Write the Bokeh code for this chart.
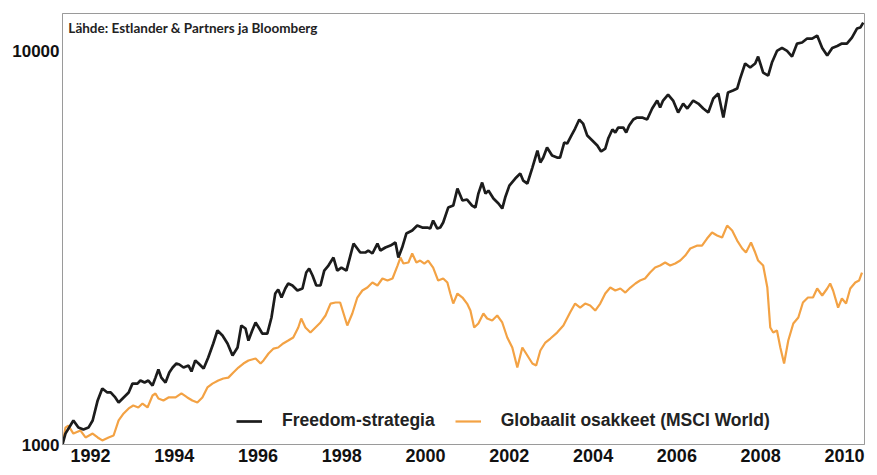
from bokeh.plotting import figure
from bokeh.models import Range1d, FixedTicker, NumeralTickFormatter, Legend, LegendItem, Label
from bokeh.embed import file_html
from bokeh.resources import INLINE

# ---------------- data ----------------
freedom_year = [1991.33, 1991.40, 1991.59, 1991.71, 1991.83, 1991.95, 1992.05, 1992.17, 1992.28, 1992.40,
                1992.48, 1992.59, 1992.67, 1992.79, 1992.91, 1993.00, 1993.12, 1993.19, 1993.29, 1993.38,
                1993.48, 1993.55, 1993.62, 1993.69, 1993.79, 1993.88, 1993.96, 1994.05, 1994.12, 1994.22,
                1994.34, 1994.41, 1994.50, 1994.58, 1994.70, 1994.81, 1994.93, 1995.03, 1995.15, 1995.27,
                1995.39, 1995.51, 1995.60, 1995.70, 1995.77, 1995.86, 1995.94, 1996.03, 1996.10, 1996.22,
                1996.32, 1996.41, 1996.48, 1996.56, 1996.65, 1996.72, 1996.82, 1996.94, 1997.06, 1997.15,
                1997.22, 1997.30, 1997.39, 1997.49, 1997.58, 1997.68, 1997.80, 1997.89, 1997.99, 1998.11,
                1998.28, 1998.44, 1998.56, 1998.63, 1998.73, 1998.85, 1998.92, 1999.04, 1999.16, 1999.28,
                1999.35, 1999.44, 1999.54, 1999.68, 1999.80, 1999.92, 2000.04, 2000.11, 2000.18, 2000.28,
                2000.35, 2000.42, 2000.54, 2000.66, 2000.76, 2000.88, 2000.99, 2001.11, 2001.19, 2001.26,
                2001.35, 2001.43, 2001.50, 2001.62, 2001.74, 2001.83, 2001.90, 2002.00, 2002.14, 2002.26,
                2002.33, 2002.43, 2002.55, 2002.67, 2002.74, 2002.81, 2002.90, 2003.02, 2003.14, 2003.21,
                2003.31, 2003.38, 2003.48, 2003.57, 2003.67, 2003.76, 2003.86, 2003.98, 2004.10, 2004.19,
                2004.29, 2004.36, 2004.46, 2004.53, 2004.60, 2004.72, 2004.79, 2004.86, 2004.96, 2005.05,
                2005.17, 2005.29, 2005.41, 2005.53, 2005.60, 2005.67, 2005.79, 2005.91, 2006.03, 2006.15,
                2006.25, 2006.39, 2006.51, 2006.63, 2006.75, 2006.87, 2006.99, 2007.11, 2007.22, 2007.34,
                2007.44, 2007.51, 2007.63, 2007.75, 2007.87, 2007.94, 2008.06, 2008.18, 2008.27, 2008.39,
                2008.51, 2008.63, 2008.75, 2008.87, 2008.99, 2009.11, 2009.23, 2009.35, 2009.47, 2009.59,
                2009.71, 2009.83, 2009.94, 2010.06, 2010.18, 2010.30, 2010.38, 2010.45]
freedom_value = [1000, 1066, 1151, 1104, 1092, 1104, 1151, 1294, 1388, 1356,
                 1356, 1317, 1279, 1317, 1356, 1428, 1428, 1454, 1437, 1454,
                 1412, 1479, 1551, 1479, 1437, 1524, 1569, 1606, 1597, 1569,
                 1587, 1533, 1635, 1606, 1560, 1664, 1806, 1948, 1892, 1806,
                 1683, 1764, 2006, 1971, 1837, 1948, 2042, 1971, 1914, 1914,
                 2102, 2419, 2476, 2363, 2491, 2565, 2535, 2462, 2491, 2735,
                 2800, 2688, 2535, 2535, 2767, 2849, 2986, 2767, 2816, 2767,
                 3241, 3075, 3075, 3111, 3057, 3241, 3111, 3166, 3203, 3260,
                 2986, 3166, 3436, 3497, 3600, 3559, 3559, 3538, 3708, 3538,
                 3559, 3665, 4000, 4047, 4470, 4168, 4192, 4047, 4000, 4341,
                 4631, 4341, 4418, 4216, 4095, 3977, 4241, 4549, 4740, 4880,
                 4685, 4604, 5055, 5584, 5206, 5360, 5683, 5423, 5360, 5360,
                 5851, 5817, 6095, 6351, 6694, 6539, 6095, 5920, 5749, 5552,
                 5650, 5990, 6314, 6204, 6388, 6388, 6204, 6463, 6694, 6773,
                 6773, 6694, 7139, 7481, 7181, 7481, 7748, 7481, 6974, 7351,
                 7139, 7481, 7351, 7139, 6974, 7569, 7794, 6773, 7839, 7932,
                 8025, 8508, 9290, 9074, 9290, 9677, 8813, 8659, 9344, 10000,
                 10177, 10000, 9677, 10442, 10504, 10752, 10752, 10942, 10177, 9734,
                 10177, 10297, 10442, 10442, 10815, 11399, 11466, 11807]

msci_year = [1991.33, 1991.40, 1991.47, 1991.59, 1991.76, 1991.88, 1992.05, 1992.17, 1992.28, 1992.43,
             1992.55, 1992.67, 1992.79, 1992.91, 1993.02, 1993.14, 1993.24, 1993.36, 1993.48, 1993.55,
             1993.62, 1993.74, 1993.86, 1994.03, 1994.17, 1994.31, 1994.43, 1994.55, 1994.67, 1994.79,
             1994.91, 1995.05, 1995.17, 1995.29, 1995.41, 1995.53, 1995.65, 1995.77, 1995.94, 1996.06,
             1996.13, 1996.25, 1996.37, 1996.48, 1996.60, 1996.72, 1996.84, 1996.96, 1997.03, 1997.13,
             1997.25, 1997.37, 1997.49, 1997.61, 1997.73, 1997.85, 1997.96, 1998.13, 1998.25, 1998.37,
             1998.49, 1998.61, 1998.73, 1998.85, 1998.97, 1999.09, 1999.21, 1999.33, 1999.40, 1999.47,
             1999.59, 1999.68, 1999.78, 1999.87, 1999.97, 2000.06, 2000.18, 2000.30, 2000.42, 2000.52,
             2000.59, 2000.66, 2000.76, 2000.88, 2000.99, 2001.07, 2001.16, 2001.26, 2001.38, 2001.47,
             2001.59, 2001.71, 2001.83, 2001.95, 2002.07, 2002.19, 2002.31, 2002.43, 2002.55, 2002.64,
             2002.74, 2002.86, 2002.98, 2003.14, 2003.29, 2003.45, 2003.57, 2003.69, 2003.81, 2003.93,
             2004.05, 2004.17, 2004.29, 2004.41, 2004.53, 2004.65, 2004.77, 2004.89, 2005.01, 2005.12,
             2005.24, 2005.36, 2005.48, 2005.60, 2005.72, 2005.84, 2005.96, 2006.08, 2006.20, 2006.32,
             2006.49, 2006.60, 2006.72, 2006.84, 2006.96, 2007.08, 2007.20, 2007.32, 2007.44, 2007.56,
             2007.65, 2007.77, 2007.87, 2007.94, 2008.06, 2008.16, 2008.23, 2008.30, 2008.39, 2008.47,
             2008.56, 2008.66, 2008.78, 2008.90, 2009.01, 2009.13, 2009.25, 2009.35, 2009.47, 2009.59,
             2009.66, 2009.73, 2009.85, 2009.94, 2010.04, 2010.14, 2010.26, 2010.35, 2010.42]
msci_value = [1000, 1104, 1117, 1066, 1085, 1042, 1066, 1042, 1024, 1042,
              1054, 1151, 1199, 1235, 1256, 1242, 1271, 1242, 1332, 1348,
              1309, 1294, 1317, 1317, 1348, 1317, 1294, 1279, 1317, 1396,
              1428, 1454, 1471, 1479, 1524, 1569, 1606, 1635, 1654, 1606,
              1635, 1703, 1753, 1764, 1806, 1837, 1870, 1983, 2090, 1983,
              1925, 1983, 2042, 2127, 2281, 2295, 2295, 2006, 2152, 2363,
              2462, 2505, 2580, 2535, 2641, 2610, 2641, 2849, 2986, 2883,
              2900, 3057, 2900, 2934, 2883, 2934, 2816, 2610, 2641, 2580,
              2419, 2281, 2419, 2363, 2281, 2190, 1983, 2030, 2152, 2090,
              2066, 2127, 2042, 1870, 1764, 1569, 1764, 1683, 1606, 1587,
              1733, 1816, 1859, 1925, 2006, 2164, 2281, 2228, 2281, 2255,
              2190, 2281, 2419, 2505, 2462, 2491, 2433, 2505, 2565, 2610,
              2641, 2735, 2816, 2849, 2900, 2849, 2883, 2934, 3021, 3148,
              3203, 3203, 3337, 3456, 3396, 3357, 3600, 3497, 3298, 3148,
              3075, 3260, 3075, 2934, 2849, 2505, 1983, 1925, 1948, 1764,
              1606, 1837, 2030, 2102, 2295, 2363, 2363, 2491, 2391, 2491,
              2565, 2462, 2228, 2349, 2281, 2491, 2580, 2610, 2735]

year_ticks = [1992, 1994, 1996, 1998, 2000, 2002, 2004, 2006, 2008, 2010]
value_ticks = [1000, 10000]
series_names = ["Freedom-strategia", "Globaalit osakkeet (MSCI World)"]
source_text = "Lähde: Estlander & Partners ja Bloomberg"

BLACK = "#1c1c1c"
ORANGE = "#f3a244"

p = figure(width=869, height=467, output_backend="svg", toolbar_location=None,
           y_axis_type="log",
           x_range=Range1d(1991.33, 2010.48), y_range=Range1d(1000, 12450),
           min_border_left=62, min_border_right=5, min_border_top=13, min_border_bottom=23)

p.background_fill_color = "white"
p.border_fill_color = "white"
p.outline_line_color = "#9a9a9a"
p.outline_line_width = 1
p.xgrid.visible = False
p.ygrid.visible = False

r_msci = p.line(msci_year, msci_value, line_color=ORANGE, line_width=2.2)
r_free = p.line(freedom_year, freedom_value, line_color=BLACK, line_width=2.7)

# axes
p.xaxis.ticker = FixedTicker(ticks=year_ticks)
p.yaxis.ticker = FixedTicker(ticks=value_ticks)
p.yaxis.formatter = NumeralTickFormatter(format="0")
for ax in (p.xaxis, p.yaxis):
    ax.axis_line_color = "#9a9a9a"
    ax.major_tick_line_color = None
    ax.minor_tick_line_color = None
    ax.major_tick_out = 0
    ax.major_tick_in = 0
    ax.major_label_text_font = "Liberation Sans"
    ax.major_label_text_font_style = "bold"
    ax.major_label_text_color = "#111111"
p.xaxis.major_label_text_font_size = "18px"
p.xaxis.major_label_standoff = 4
p.yaxis.major_label_text_font_size = "17px"
p.yaxis.major_label_standoff = 3

# source note
p.add_layout(Label(x=1991.47, y=12000, text=source_text, text_baseline="top",
                   text_font="Lato", text_font_style="bold", text_font_size="13.5px",
                   text_color="#222222"))

legend = Legend(items=[LegendItem(label=series_names[0], renderers=[r_free]),
                       LegendItem(label=series_names[1], renderers=[r_msci])],
                orientation="horizontal", location=(174, 13),
                glyph_width=26, label_standoff=20, spacing=20,
                padding=0, margin=0, background_fill_alpha=0, border_line_color=None,
                label_text_font="Liberation Sans", label_text_font_style="bold",
                label_text_font_size="17.5px", label_text_color="#222222")
p.add_layout(legend)

open("out.html", "w").write(file_html(p, INLINE))
